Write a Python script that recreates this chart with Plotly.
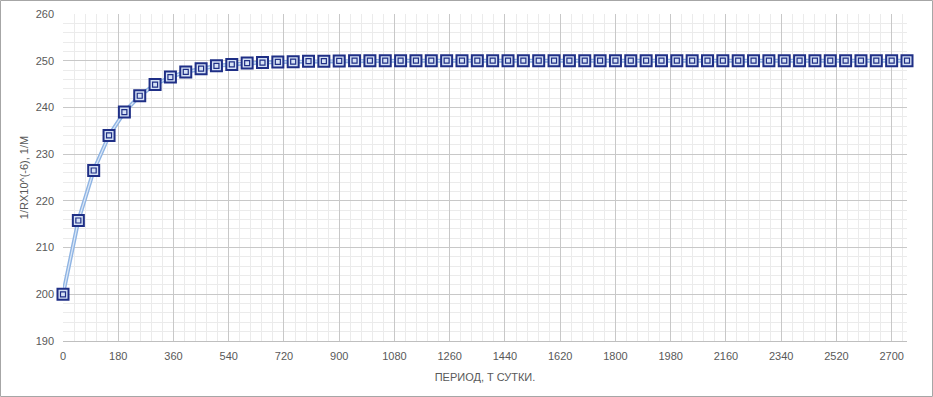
import plotly.graph_objects as go

days = list(range(0, 2751, 50))
values = [200.0, 215.8, 226.5, 234.0, 239.0, 242.5, 244.9, 246.5, 247.6, 248.3,
          248.9, 249.2, 249.5, 249.6, 249.75, 249.8, 249.9, 249.9, 249.95, 250.0,
          250.0, 250.0, 250.0, 250.0, 250.0, 250.0, 250.0, 250.0, 250.0, 250.0,
          250.0, 250.0, 250.0, 250.0, 250.0, 250.0, 250.0, 250.0, 250.0, 250.0,
          250.0, 250.0, 250.0, 250.0, 250.0, 250.0, 250.0, 250.0, 250.0, 250.0,
          250.0, 250.0, 250.0, 250.0, 250.0, 250.0]
x_ticks = list(range(0, 2701, 180))
y_ticks = list(range(190, 261, 10))
x_title = "ПЕРИОД, T СУТКИ."
y_title = "1/RX10^(-6), 1/M"

W, H = 933, 397
L, R, T, B = 63, 26, 14, 56
pw, ph = W - L - R, H - T - B

fig = go.Figure()
fig.add_trace(go.Scatter(x=days, y=values, mode="lines", cliponaxis=False,
                         line=dict(color="#8fb4e3", width=4), hoverinfo="skip", showlegend=False))
fig.add_trace(go.Scatter(x=days, y=values, mode="lines", cliponaxis=False,
                         line=dict(color="#dce8f7", width=1.2), hoverinfo="skip", showlegend=False))
fig.add_trace(go.Scatter(x=days, y=values, mode="markers", cliponaxis=False,
                         marker=dict(symbol="square", size=11, color="#d6e2f5",
                                     line=dict(color="#1f2f86", width=2)),
                         showlegend=False))
fig.add_trace(go.Scatter(x=days, y=values, mode="markers", cliponaxis=False,
                         marker=dict(symbol="square-open", size=5, color="#1f2f86",
                                     line=dict(width=1.2)),
                         hoverinfo="skip", showlegend=False))

font = dict(family="Liberation Sans, Arial, sans-serif", size=11, color="#595959")
fig.update_layout(
    width=W, height=H,
    margin=dict(l=L, r=R, t=T, b=B, autoexpand=False),
    paper_bgcolor="white", plot_bgcolor="white",
    font=font,
    xaxis=dict(range=[0, 2750], tickvals=x_ticks, ticktext=[str(v) for v in x_ticks],
               showgrid=True, gridcolor="#c8c8c8", gridwidth=1,
               minor=dict(dtick=36, tick0=0, showgrid=True, gridcolor="#ebebeb", gridwidth=1),
               showline=True, linecolor="#bfbfbf", linewidth=1, zeroline=False,
               ticks="", tickfont=font, automargin=False, ticklabelstandoff=5,
               title=dict(text=x_title, font=font, standoff=12)),
    yaxis=dict(range=[190, 260], tickvals=y_ticks, ticktext=[str(v) for v in y_ticks],
               showgrid=True, gridcolor="#c8c8c8", gridwidth=1,
               minor=dict(dtick=2, tick0=190, showgrid=True, gridcolor="#ebebeb", gridwidth=1),
               showline=False, zeroline=False, ticks="", tickfont=font, automargin=False,
               ticklabelstandoff=8,
               title=dict(text=y_title, font=font, standoff=4)),
    shapes=[dict(type="rect", xref="paper", yref="paper",
                 x0=(0.5 - L) / pw, x1=(W - 0.5 - L) / pw,
                 y0=(T + ph - (H - 0.5)) / ph, y1=(T + ph - 0.5) / ph,
                 line=dict(color="#a6a6a6", width=1), layer="above")],
)

fig.write_html("out.html", config={"displayModeBar": False},
               post_script="document.body.style.margin='0';document.body.style.overflow='hidden';")
